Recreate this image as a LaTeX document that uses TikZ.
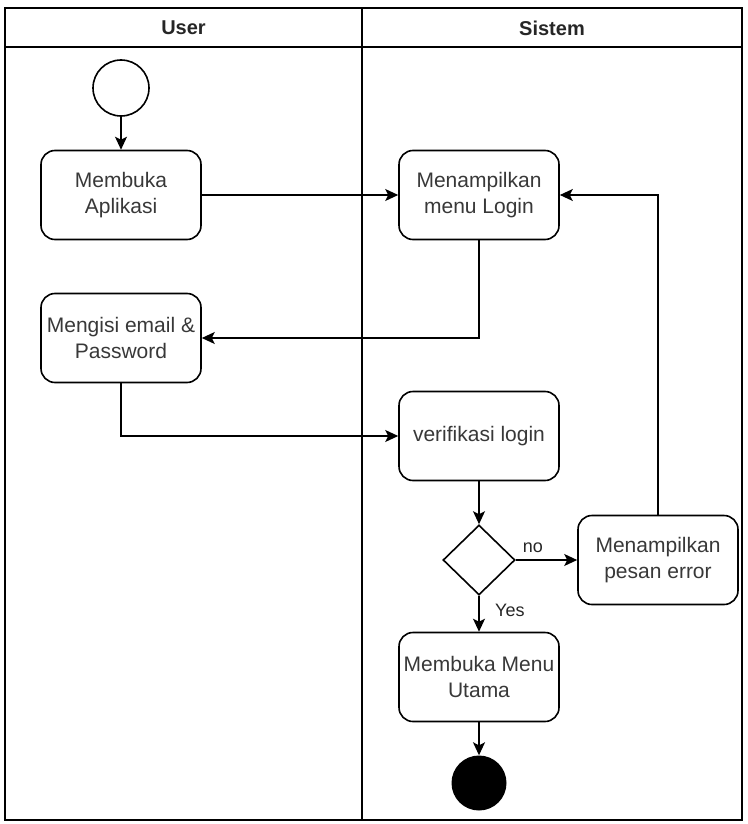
\documentclass[tikz,border=0pt]{standalone}
\usepackage{fontspec}
\setmainfont{Liberation Sans}
\usetikzlibrary{arrows.meta,shapes.geometric}
\begin{document}
\begin{tikzpicture}[x=1pt,y=-1pt,
  ln/.style={line width=1.6pt},
  act/.style={draw, line width=1.6pt, rounded corners=14pt, minimum width=160pt, minimum height=89pt,
    align=center, font=\fontsize{21}{26}\selectfont, text=black!78, inner sep=1pt},
  hdr/.style={font=\bfseries\fontsize{20}{24}\selectfont, text=black!85},
  lbl/.style={font=\fontsize{18}{21}\selectfont, text=black!85},
  arr/.style={line width=1.6pt, -{Stealth[length=13pt,width=12pt,inset=3pt]}},
  startnode/.style={circle, draw, line width=1.6pt, minimum size=56pt, inner sep=0pt},
  endnode/.style={circle, fill=black, minimum size=55pt, inner sep=0pt},
  decision/.style={diamond, draw, line width=1.6pt, minimum width=72pt, minimum height=70pt, inner sep=0pt}
]
\useasboundingbox (0,0) rectangle (747,824);
% swimlanes
\draw[ln] (5,8) rectangle (742,820);
\draw[ln] (5,47) -- (742,47);
\draw[ln] (362,8) -- (362,820);
\node[hdr] (huser) at (183.5,28) {User};
\node[hdr] (hsis) at (552,28) {Sistem};
% nodes
\node[startnode] (start) at (121,88) {};
\node[act] (app) at (121,195) {Membuka\\Aplikasi};
\node[act] (login) at (479,195) {Menampilkan\\menu Login};
\node[act] (isi) at (121,338) {Mengisi email \&\\Password};
\node[act] (verif) at (479,436) {verifikasi login};
\node[decision] (dec) at (479,560) {};
\node[act] (err) at (658,560) {Menampilkan\\pesan error};
\node[act] (menu) at (479,677) {Membuka Menu\\Utama};
\node[endnode] (end) at (479,783) {};
% edges
\draw[arr] (start) -- (app);
\draw[arr] (app) -- (login);
\draw[arr] (login.south) |- (isi.east);
\draw[arr] (isi.south) |- (verif.west);
\draw[arr] (verif) -- (dec);
\draw[arr] (dec.east) -- node[lbl, pos=0.28, above=3pt] {no} (err.west);
\draw[arr] (err.north) |- (login.east);
\draw[arr] (dec.south) -- node[lbl, pos=0.4, right=12pt] {Yes} (menu.north);
\draw[arr] (menu) -- (end);
\end{tikzpicture}
\end{document}
